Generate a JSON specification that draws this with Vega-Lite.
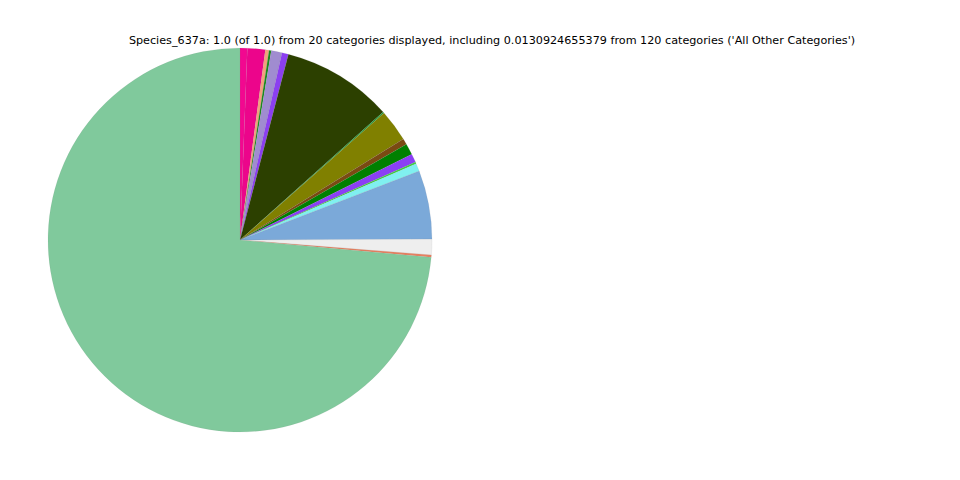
{
  "$schema": "https://vega.github.io/schema/vega-lite/v6.json",
  "width": 480,
  "height": 480,
  "autosize": {"type": "none"},
  "padding": {"left": 0, "top": 0, "right": 480, "bottom": 0},
  "background": "white",
  "view": {"stroke": null},
  "title": {
    "text": "Species_637a: 1.0 (of 1.0) from 20 categories displayed, including 0.0130924655379 from 120 categories ('All Other Categories')",
    "font": "DejaVu Sans",
    "fontSize": 11.2,
    "fontWeight": "normal",
    "color": "black",
    "anchor": "middle",
    "frame": "group",
    "baseline": "middle",
    "offset": 0,
    "dx": 252,
    "dy": 52
  },
  "data": {
    "values": [
      {"idx": 1, "category": "Category A", "value": 0.0061},
      {"idx": 2, "category": "Category B", "value": 0.0150},
      {"idx": 3, "category": "Category C", "value": 0.0031},
      {"idx": 4, "category": "Category D", "value": 0.0019},
      {"idx": 5, "category": "Category E", "value": 0.0090},
      {"idx": 6, "category": "Category F", "value": 0.0055},
      {"idx": 7, "category": "Category G", "value": 0.0933},
      {"idx": 8, "category": "Category H", "value": 0.0011},
      {"idx": 9, "category": "Category I", "value": 0.0269},
      {"idx": 10, "category": "Category J", "value": 0.0050},
      {"idx": 11, "category": "Category K", "value": 0.0094},
      {"idx": 12, "category": "Category L", "value": 0.0072},
      {"idx": 13, "category": "Category M", "value": 0.0014},
      {"idx": 14, "category": "Category N", "value": 0.0067},
      {"idx": 15, "category": "Category O", "value": 0.0578},
      {"idx": 16, "category": "All Other Categories", "value": 0.0131},
      {"idx": 17, "category": "Category P", "value": 0.0019},
      {"idx": 18, "category": "Category Q", "value": 0.7356}
    ]
  },
  "mark": {"type": "arc", "outerRadius": 192, "stroke": "#888888", "strokeWidth": 0.2, "strokeOpacity": 0.5},
  "encoding": {
    "theta": {"field": "value", "type": "quantitative", "stack": true},
    "order": {"field": "idx", "type": "quantitative"},
    "color": {
      "field": "category",
      "type": "nominal",
      "legend": null,
      "scale": {
        "domain": ["Category A", "Category B", "Category C", "Category D", "Category E", "Category F", "Category G", "Category H", "Category I", "Category J", "Category K", "Category L", "Category M", "Category N", "Category O", "All Other Categories", "Category P", "Category Q"],
        "range": ["#f20890", "#ec058b", "#f4a07c", "#1a8a1a", "#a08cd0", "#8b3ff0", "#2c4000", "#1f9a3a", "#808000", "#7a4a12", "#008000", "#8b3ff5", "#40d040", "#80f0f0", "#7ba9d9", "#eeeeee", "#e88060", "#80c99c"]
      }
    }
  }
}
